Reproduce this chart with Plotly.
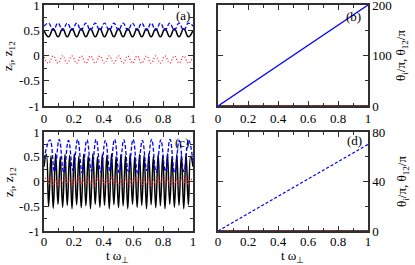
import plotly.graph_objects as go

# ---------------- data ----------------
# panel (a): extrema of the oscillations
t_a = [0.000, 0.031, 0.062, 0.094, 0.125, 0.156, 0.188, 0.219, 0.250, 0.281, 0.312,
       0.344, 0.375, 0.406, 0.438, 0.469, 0.500, 0.531, 0.562, 0.594, 0.625, 0.656,
       0.688, 0.719, 0.750, 0.781, 0.812, 0.844, 0.875, 0.906, 0.938, 0.969, 1.000]
z1_a = [0.50, 0.37, 0.53, 0.37, 0.53, 0.37, 0.53, 0.37, 0.53, 0.37, 0.53,
        0.37, 0.53, 0.37, 0.53, 0.37, 0.53, 0.37, 0.53, 0.37, 0.53, 0.37,
        0.53, 0.37, 0.53, 0.37, 0.53, 0.37, 0.53, 0.37, 0.53, 0.37, 0.50]
z2_a = [0.58, 0.64, 0.50, 0.64, 0.50, 0.64, 0.50, 0.64, 0.50, 0.64, 0.50,
        0.64, 0.50, 0.64, 0.50, 0.64, 0.50, 0.64, 0.50, 0.64, 0.50, 0.64,
        0.50, 0.64, 0.50, 0.64, 0.50, 0.64, 0.50, 0.64, 0.50, 0.64, 0.58]
z12_a = [-0.03, -0.15, -0.01, -0.15, -0.01, -0.15, -0.01, -0.15, -0.01, -0.15, -0.01,
         -0.15, -0.01, -0.15, -0.01, -0.15, -0.01, -0.15, -0.01, -0.15, -0.01, -0.15,
         -0.01, -0.15, -0.01, -0.15, -0.01, -0.15, -0.01, -0.15, -0.01, -0.15, -0.03]

# panel (b): phases
t_b = [0.0, 1.0]
th1_b = [0.0, 0.0]
th2_b = [0.0, 200.0]
th12_b = [0.0, 0.0]

# panel (c): blue extrema
t_c2 = [0.000, 0.040, 0.071, 0.102, 0.133, 0.164, 0.195, 0.226, 0.257, 0.288, 0.319,
        0.350, 0.381, 0.412, 0.443, 0.474, 0.505, 0.536, 0.567, 0.598, 0.629, 0.660,
        0.691, 0.722, 0.753, 0.784, 0.815, 0.846, 0.877, 0.908, 0.939, 0.970, 1.000]
z2_c = [0.45, 0.84, 0.20, 0.85, 0.18, 0.83, 0.22, 0.85, 0.17, 0.84, 0.21,
        0.85, 0.19, 0.83, 0.22, 0.85, 0.18, 0.84, 0.20, 0.85, 0.17, 0.83,
        0.22, 0.85, 0.19, 0.84, 0.21, 0.85, 0.18, 0.83, 0.20, 0.84, 0.40]
# panel (c): black and red extrema
t_c = [0.000, 0.016, 0.031, 0.047, 0.062, 0.078, 0.094, 0.109, 0.125, 0.141, 0.156,
       0.172, 0.188, 0.203, 0.219, 0.234, 0.250, 0.266, 0.281, 0.297, 0.312, 0.328,
       0.344, 0.359, 0.375, 0.391, 0.406, 0.422, 0.438, 0.453, 0.469, 0.484, 0.500,
       0.516, 0.531, 0.547, 0.562, 0.578, 0.594, 0.609, 0.625, 0.641, 0.656, 0.672,
       0.688, 0.703, 0.719, 0.734, 0.750, 0.766, 0.781, 0.797, 0.812, 0.828, 0.844,
       0.859, 0.875, 0.891, 0.906, 0.922, 0.938, 0.953, 0.969, 0.984, 1.000]
z1_c = [0.30, 0.55, -0.50, 0.52, -0.54, 0.56, -0.46, 0.50, -0.52, 0.55, -0.48,
        0.53, -0.55, 0.56, -0.47, 0.51, -0.53, 0.55, -0.49, 0.52, -0.55, 0.56,
        -0.46, 0.50, -0.52, 0.55, -0.48, 0.53, -0.55, 0.56, -0.47, 0.51, -0.53,
        0.55, -0.49, 0.52, -0.55, 0.56, -0.46, 0.50, -0.52, 0.55, -0.48, 0.53,
        -0.55, 0.56, -0.47, 0.51, -0.53, 0.55, -0.49, 0.52, -0.55, 0.56, -0.46,
        0.50, -0.52, 0.55, -0.48, 0.53, -0.55, 0.56, -0.47, 0.51, 0.30]
z12_c = [0.00, 0.08, -0.05, 0.10, -0.07, 0.04, -0.09, 0.06, -0.03, 0.09, -0.06,
         0.05, -0.10, 0.07, -0.04, 0.10, -0.06, 0.03, -0.08, 0.09, -0.05, 0.06,
         -0.10, 0.08, -0.03, 0.07, -0.09, 0.05, -0.06, 0.10, -0.04, 0.08, -0.07,
         0.04, -0.10, 0.09, -0.05, 0.06, -0.08, 0.10, -0.03, 0.07, -0.09, 0.05,
         -0.06, 0.08, -0.10, 0.04, -0.07, 0.09, -0.05, 0.10, -0.04, 0.06, -0.09,
         0.08, -0.06, 0.05, -0.10, 0.07, -0.03, 0.09, -0.07, 0.05, 0.00]

# panel (d): phases
t_d = [0.0, 1.0]
th1_d = [0.0, 0.0]
th2_d = [0.0, 70.0]
th12_d = [0.0, 0.0]

x_ticks = [0, 0.2, 0.4, 0.6, 0.8, 1]
x_ticktext = ["0", "0.2", "0.4", "0.6", "0.8", "1"]
z_ticks = [-1, -0.5, 0, 0.5, 1]
z_ticktext = ["-1", "-0.5", "0", "0.5", "1"]
thb_ticks = [0, 100, 200]
thd_ticks = [0, 40, 80]

# ---------------- layout helpers ----------------
W, H = 415, 265
FONT = "Liberation Serif"
BLACK = "#000000"
BLUE = "#0000ff"
RED = "#ff2020"


def dx(p):
    return p / W


def dy(p):
    return 1 - p / H


fig = go.Figure()

LW = 1.3


def add(x, y, color, dash, xa, ya, width=LW, spline=True):
    fig.add_trace(go.Scatter(
        x=x, y=y, mode="lines", xaxis=xa, yaxis=ya, showlegend=False,
        hoverinfo="skip",
        line=dict(color=color, width=width, dash=dash,
                  shape="spline" if spline else "linear", smoothing=1.3)))


# (a)
add(t_a, z1_a, BLACK, "solid", "x", "y", 1.5)
add(t_a, z2_a, BLUE, "4px,2px", "x", "y")
add(t_a, z12_a, RED, "1px,2px", "x", "y")
# (b)
add(t_b, th1_b, BLACK, "solid", "x2", "y2", spline=False)
add(t_b, th2_b, BLUE, "solid", "x2", "y2", spline=False)
add(t_b, th12_b, RED, "1px,2px", "x2", "y2", spline=False)
# (c)
add(t_c, z1_c, BLACK, "solid", "x3", "y3", 1.5)
add(t_c2, z2_c, BLUE, "4px,2px", "x3", "y3")
add(t_c, z12_c, RED, "1px,2px", "x3", "y3")
# (d)
add(t_d, th1_d, BLACK, "solid", "x4", "y4", spline=False)
add(t_d, th2_d, BLUE, "3px,2px", "x4", "y4", spline=False)
add(t_d, th12_d, RED, "1px,2px", "x4", "y4", spline=False)

AX = "#303030"


def axis(domain, rng, tickvals, ticktext, anchor, minor_dtick, side=None):
    d = dict(domain=domain, range=rng, anchor=anchor, showline=True,
             linecolor=AX, linewidth=1.5, mirror="allticks", ticks="inside",
             ticklen=5, tickwidth=1, tickcolor=AX, showgrid=False,
             zeroline=False, tickmode="array", tickvals=tickvals,
             ticktext=ticktext, automargin=False, ticklabeloverflow="allow",
             tickfont=dict(family=FONT, size=13, color="black"),
             minor=dict(ticks="inside", ticklen=3, tickwidth=1,
                        tickcolor=AX, dtick=minor_dtick, showgrid=False))
    if side:
        d["side"] = side
    return d


xl = [dx(44), dx(193)]
xr = [dx(218), dx(368)]
yt = [dy(106), dy(5)]
yb = [dy(231), dy(132)]

fig.update_layout(
    width=W, height=H, margin=dict(l=0, r=0, t=0, b=0),
    paper_bgcolor="white", plot_bgcolor="white",
    xaxis=axis(xl, [0, 1], x_ticks, x_ticktext, "y", 0.1),
    yaxis=axis(yt, [-1, 1], z_ticks, z_ticktext, "x", 0.25),
    xaxis2=axis(xr, [0, 1], x_ticks, x_ticktext, "y2", 0.1),
    yaxis2=axis(yt, [0, 200], thb_ticks, [str(v) for v in thb_ticks], "x2", 50, side="right"),
    xaxis3=axis(xl, [0, 1], x_ticks, x_ticktext, "y3", 0.1),
    yaxis3=axis(yb, [-1, 1], z_ticks, z_ticktext, "x3", 0.25),
    xaxis4=axis(xr, [0, 1], x_ticks, x_ticktext, "y4", 0.1),
    yaxis4=axis(yb, [0, 80], thd_ticks, [str(v) for v in thd_ticks], "x4", 20, side="right"),
)
fig.update_xaxes(selector=dict(anchor="y3"), ticklabelstandoff=-2)
fig.update_xaxes(selector=dict(anchor="y4"), ticklabelstandoff=-2)

ann_font = dict(family=FONT, size=13, color="black")
annotations = [
    # panel labels
    dict(text="(a)", x=dx(192), y=dy(16), xanchor="right", yanchor="middle"),
    dict(text="(b)", x=dx(363), y=dy(17), xanchor="right", yanchor="middle"),
    dict(text="(c)", x=dx(191), y=dy(142), xanchor="right", yanchor="middle"),
    dict(text="(d)", x=dx(364), y=dy(140), xanchor="right", yanchor="middle"),
    # axis titles
    dict(text="z<sub>i</sub>, z<sub>12</sub>", x=dx(9), y=dy(56), textangle=-90,
         xanchor="center", yanchor="middle"),
    dict(text="z<sub>i</sub>, z<sub>12</sub>", x=dx(9), y=dy(182), textangle=-90,
         xanchor="center", yanchor="middle"),
    dict(text="θ<sub>i</sub>/π, θ<sub>12</sub>/π", x=dx(402), y=dy(56), textangle=-90,
         xanchor="center", yanchor="middle"),
    dict(text="θ<sub>i</sub>/π, θ<sub>12</sub>/π", x=dx(402), y=dy(182), textangle=-90,
         xanchor="center", yanchor="middle"),
    dict(text="t ω<sub>⊥</sub>", x=dx(117), y=dy(256), xanchor="center", yanchor="middle"),
    dict(text="t ω<sub>⊥</sub>", x=dx(292), y=dy(256), xanchor="center", yanchor="middle"),
]
for a in annotations:
    a.update(xref="paper", yref="paper", showarrow=False, font=ann_font)
fig.update_layout(annotations=annotations)

fig.write_html("out.html",
               config={"displayModeBar": False},
               post_script="document.body.style.margin='0';document.body.style.padding='0';")
